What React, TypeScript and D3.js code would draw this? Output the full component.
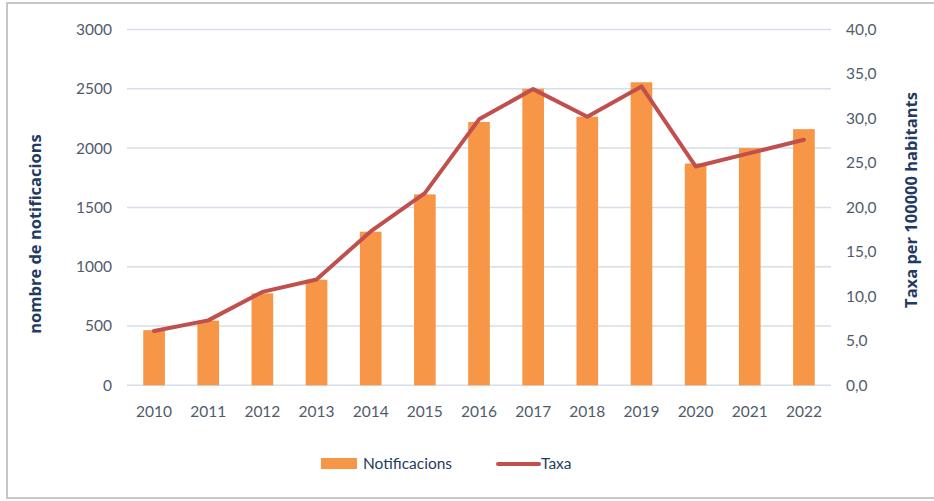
import React from "react";
import * as d3 from "d3";

const years = ["2010","2011","2012","2013","2014","2015","2016","2017","2018","2019","2020","2021","2022"];
const notificacions = [465, 545, 775, 890, 1295, 1610, 2220, 2500, 2265, 2555, 1870, 2000, 2160];
const taxa = [6.1, 7.3, 10.5, 11.9, 17.3, 21.6, 29.9, 33.3, 30.2, 33.6, 24.6, 26.1, 27.6];
const leftTicks = [0, 500, 1000, 1500, 2000, 2500, 3000];
const rightTicks = [0, 5, 10, 15, 20, 25, 30, 35, 40];

const W = 934, H = 501;
const plotL = 127, plotR = 831, plotT = 29.5, plotB = 385.3;
const FONT = "Lato, 'Open Sans', sans-serif";
const TITLE_FONT = "'Open Sans', sans-serif";
const TICK_COLOR = "#4f5b6b";
const TITLE_COLOR = "#1f3b63";

export default function App() {
  const x = d3.scaleBand<string>().domain(years).range([plotL, plotR]).paddingInner(0.6).paddingOuter(0.3);
  const yL = d3.scaleLinear().domain([0, 3000]).range([plotB, plotT]);
  const yR = d3.scaleLinear().domain([0, 40]).range([plotB, plotT]);
  const line = d3.line<number>()
    .x((_, i) => (x(years[i]) as number) + x.bandwidth() / 2)
    .y((d) => yR(d));

  return (
    <div style={{ position: "fixed", left: 0, top: 0 }}>
      <svg width={W} height={H} style={{ display: "block", background: "#fff" }}>
        <rect x={7} y={3} width={W} height={495} fill="#fff" stroke="#c4c8cc" strokeWidth={2} />
        {leftTicks.map((t) => (
          <line key={"g" + t} x1={plotL} x2={plotR} y1={yL(t)} y2={yL(t)} stroke="#d6dee9" strokeWidth={1.5} />
        ))}
        {leftTicks.map((t) => (
          <text key={"l" + t} x={112} y={yL(t)} dy="0.35em" textAnchor="end" fontFamily={FONT} fontSize={15.5} fill={TICK_COLOR}>
            {t}
          </text>
        ))}
        {rightTicks.map((t) => (
          <text key={"r" + t} x={846} y={yR(t)} dy="0.35em" textAnchor="start" fontFamily={FONT} fontSize={15.5} fill={TICK_COLOR}>
            {d3.format(".1f")(t).replace(".", ",")}
          </text>
        ))}
        {years.map((yv, i) => (
          <rect key={"b" + yv} x={x(yv)} y={yL(notificacions[i])} width={x.bandwidth()} height={plotB - yL(notificacions[i])} fill="#f79646" />
        ))}
        <path d={line(taxa) || ""} fill="none" stroke="#c0504d" strokeWidth={4} strokeLinejoin="round" strokeLinecap="round" />
        {years.map((yv) => (
          <text key={"x" + yv} x={(x(yv) as number) + x.bandwidth() / 2} y={412} dy="0.35em" textAnchor="middle" fontFamily={FONT} fontSize={15.5} fill={TICK_COLOR}>
            {yv}
          </text>
        ))}
        <text transform={`translate(41,234) rotate(-90)`} textAnchor="middle" fontFamily={TITLE_FONT} fontWeight="bold" fontSize={16.5} fill={TITLE_COLOR}>
          nombre de notificacions
        </text>
        <text transform={`translate(917,200) rotate(-90)`} textAnchor="middle" fontFamily={TITLE_FONT} fontWeight="bold" fontSize={16.5} fill={TITLE_COLOR}>
          Taxa per 100000 habitants
        </text>
        <rect x={321} y={458} width={36} height={11} fill="#f79646" />
        <text x={363} y={464} dy="0.35em" fontFamily={FONT} fontSize={15.5} fill={TITLE_COLOR}>Notificacions</text>
        <line x1={498} x2={539} y1={464} y2={464} stroke="#c0504d" strokeWidth={4} strokeLinecap="round" />
        <text x={541} y={464} dy="0.35em" fontFamily={FONT} fontSize={15.5} fill={TITLE_COLOR}>Taxa</text>
      </svg>
    </div>
  );
}
